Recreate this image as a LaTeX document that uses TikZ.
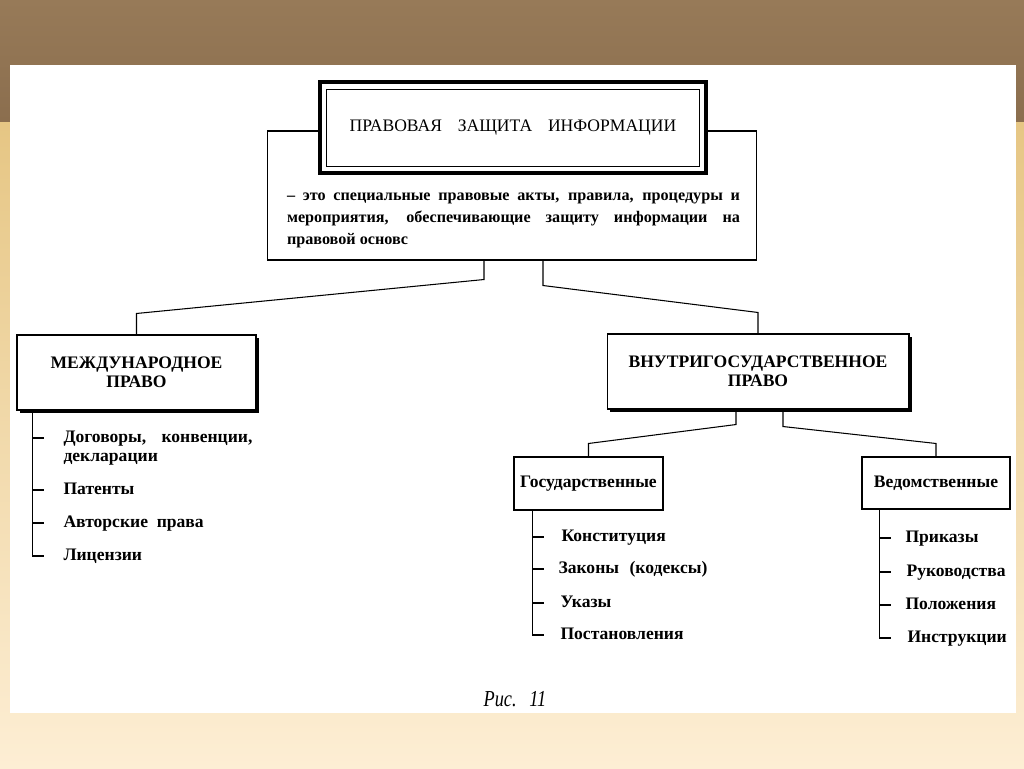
\documentclass[tikz,border=0pt]{standalone}
\usepackage{fontspec}
\setmainfont{Liberation Serif}
\usetikzlibrary{calc,shadows}
\definecolor{brownA}{RGB}{151,122,88}
\definecolor{brownB}{RGB}{139,110,78}
\definecolor{sandA}{RGB}{230,198,132}
\definecolor{sandB}{RGB}{253,238,212}
\begin{document}
\begin{tikzpicture}[x=0.02cm,y=-0.02cm,semithick,
    box/.style={draw,fill=white,inner sep=0pt,align=center,font=\bfseries\fontsize{10}{11}\selectfont},
    bigbox/.style={box,drop shadow={opacity=1,fill=black,shadow xshift=0.06cm,shadow yshift=-0.06cm}},
    item/.style={anchor=mid west,inner sep=0pt,font=\bfseries\fontsize{10}{11}\selectfont}]
  \useasboundingbox (0,0) rectangle (1024,768);
  \fill[top color=brownA,bottom color=brownB] (0,0) rectangle (1024,122);
  \fill[top color=sandA,bottom color=sandB] (0,122) rectangle (1024,768);
  \fill[white] (10,65) rectangle (1016,713);

  \node[box,minimum width=9.8cm,minimum height=2.58cm] (defbox) at (512,195.5) {};
  \node[anchor=north,text width=9.06cm,align=justify,inner sep=0pt,font=\bfseries\fontsize{9.2}{12.6}\selectfont] (deftext) at (513.5,192.5)
    {– это специальные правовые акты, правила, процедуры и\linebreak
     мероприятия, обеспечивающие защиту информации на\linebreak
     правовой основс};
  \node[draw,fill=white,line width=2.3pt,minimum width=7.72cm,minimum height=1.82cm] (frame) at (513,127.5) {};
  \node[draw,thin,minimum width=7.46cm,minimum height=1.54cm,font=\fontsize{10}{12}\selectfont] (title) at (frame)
    {ПРАВОВАЯ\hspace{0.9em}ЗАЩИТА\hspace{0.9em}ИНФОРМАЦИИ};

  \node[bigbox,minimum width=4.78cm,minimum height=1.5cm] (intl) at (136.5,372.5) {МЕЖДУНАРОДНОЕ\\ПРАВО};
  \node[bigbox,minimum width=6.04cm,minimum height=1.5cm] (dom) at (758,371.5) {ВНУТРИГОСУДАРСТВЕННОЕ\\ПРАВО};
  \node[box,minimum width=2.98cm,minimum height=1.06cm] (gos) at (588.5,483.5) {Государственные};
  \node[box,minimum width=2.96cm,minimum height=1.04cm] (ved) at (936,483) {Ведомственные};

  \draw ($(defbox.south)+(-28,0)$) -- ++(0,19) -- ($(intl.north)+(0,-21)$) -- (intl.north);
  \draw ($(defbox.south)+(31,0)$) -- ++(0,25) -- ($(dom.north)+(0,-21)$) -- (dom.north);
  \draw ($(dom.south)+(-22,0)$) -- ++(0,15) -- ($(gos.north)+(0,-13)$) -- (gos.north);
  \draw ($(dom.south)+(25,0)$) -- ++(0,17) -- ($(ved.north)+(0,-13)$) -- (ved.north);

  \node[item,text width=3.78cm] (i1) at (63,438) {Договоры,\hfill конвенции,\\декларации};
  \node[item] (i2) at (63,490) {Патенты};
  \node[item] (i3) at (63,523) {Авторские\hspace{0.5em}права};
  \node[item] (i4) at (63,556) {Лицензии};
  \coordinate (ia) at ($(intl.south west)+(16,0)$);
  \draw (ia) -- (ia |- i4.mid west) -- ++(12,0);
  \foreach \i in {i1,i2,i3} \draw (ia |- \i.mid west) -- ++(12,0);

  \node[item] (g1) at (561,537) {Конституция};
  \node[item] (g2) at (558,569) {Законы\hspace{0.6em}(кодексы)};
  \node[item] (g3) at (560,603) {Указы};
  \node[item] (g4) at (560,635) {Постановления};
  \coordinate (ga) at ($(gos.south west)+(19,0)$);
  \draw (ga) -- (ga |- g4.mid west) -- ++(12,0);
  \foreach \i in {g1,g2,g3} \draw (ga |- \i.mid west) -- ++(12,0);

  \node[item] (v1) at (905,538) {Приказы};
  \node[item] (v2) at (906,572) {Руководства};
  \node[item] (v3) at (905,605) {Положения};
  \node[item] (v4) at (907,638) {Инструкции};
  \coordinate (va) at ($(ved.south west)+(18,0)$);
  \draw (va) -- (va |- v4.mid west) -- ++(12,0);
  \foreach \i in {v1,v2,v3} \draw (va |- \i.mid west) -- ++(12,0);

  \node[font=\itshape\fontsize{13}{13}\selectfont] (caption) at (515,699) {\scalebox{0.8}[1]{Рис.\hspace{0.7em}11}};
\end{tikzpicture}
\end{document}
